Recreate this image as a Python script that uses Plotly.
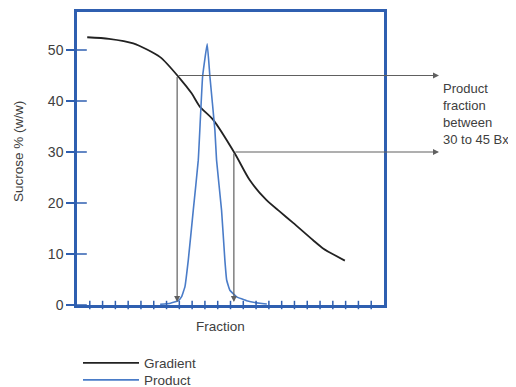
import numpy as np
import plotly.graph_objects as go

# ---- data ----
frac_gradient = [0.8, 2.5, 4.4, 6.5, 8.05, 8.96, 9.6, 10.65, 12.34, 13.5, 14.8, 15.86, 16.9, 18.46, 19.24, 20.94]
gradient = [52.5, 52.2, 51.3, 48.6, 44.4, 41.5, 38.9, 36.3, 29.7, 24.5, 20.6, 18.3, 16.1, 12.7, 11.1, 8.7]

frac_product = [6.5, 7.3, 7.91, 8.18, 8.44, 8.70, 9.09, 9.48, 9.82, 10.18, 10.39, 10.78, 10.91, 11.30, 11.56, 11.70, 11.95, 12.48, 13.26, 14.3, 14.84]
product = [0.15, 0.35, 0.84, 1.63, 3.6, 8.8, 18.6, 28.4, 44.8, 51.2, 44.8, 34.3, 28.4, 18.6, 8.8, 4.9, 2.9, 1.6, 0.84, 0.33, 0.2]

y_ticks = [0, 10, 20, 30, 40, 50]
x_ticks = list(range(1, 24))
band_low, band_high = 30, 45
band_label = "Product<br>fraction<br>between<br>30 to 45 Bx"

# ---- styles ----
FONT = "Liberation Sans, Arial, sans-serif"
TXT = "#404040"
FRAME = "#2f5fb0"
PROD = "#4a7cc8"
ARROW = "#606060"
FS = 13.5

x_range = [0, 24]
y_range = [0, 57.45]

fig = go.Figure()

fig.add_trace(go.Scatter(x=frac_gradient, y=gradient, mode="lines", name="Gradient",
                         legend="legend",
                         line=dict(color="#222222", width=1.8, shape="spline", smoothing=0.7)))
fig.add_trace(go.Scatter(x=frac_product, y=product, mode="lines", name="Product",
                         legend="legend2",
                         line=dict(color=PROD, width=1.6, shape="spline", smoothing=0.3)))

# crossing tick marks
fig.add_trace(go.Scatter(x=x_ticks, y=[0] * len(x_ticks), mode="markers", showlegend=False,
                         hoverinfo="skip", cliponaxis=False,
                         marker=dict(symbol="line-ns", size=6, line=dict(color=FRAME, width=1.5))))
fig.add_trace(go.Scatter(x=[0] * len(y_ticks), y=y_ticks, mode="markers", showlegend=False,
                         hoverinfo="skip", cliponaxis=False,
                         marker=dict(symbol="line-ew", size=14, line=dict(color=FRAME, width=1.5))))

# crossing points of gradient with band limits
rev_x = frac_gradient[::-1]
rev_y = gradient[::-1]
x_high = float(np.interp(band_high, rev_y, rev_x))
x_low = float(np.interp(band_low, rev_y, rev_x))
x_far = 28.3

anns = []
for xc, yc in [(x_high, band_high), (x_low, band_low)]:
    anns.append(dict(x=xc, y=0.6, ax=xc, ay=yc, xref="x", yref="y", axref="x", ayref="y",
                     text="", showarrow=True, arrowhead=2, arrowsize=1, arrowwidth=1.2,
                     arrowcolor=ARROW))
    anns.append(dict(x=x_far, y=yc, ax=xc, ay=yc, xref="x", yref="y", axref="x", ayref="y",
                     text="", showarrow=True, arrowhead=2, arrowsize=1, arrowwidth=1.2,
                     arrowcolor=ARROW))

anns.append(dict(x=1.186, y=37.4, xref="paper", yref="y", text=band_label, showarrow=False,
                 xanchor="left", yanchor="middle", align="left",
                 font=dict(family=FONT, size=13, color=TXT)))
anns.append(dict(x=0.469, y=-0.072, xref="paper", yref="paper", text="Fraction", showarrow=False,
                 xanchor="center", yanchor="middle", font=dict(family=FONT, size=FS, color=TXT)))
anns.append(dict(x=-0.192, y=0.522, xref="paper", yref="paper", text="Sucrose % (w/w)",
                 showarrow=False, textangle=-90, xanchor="center", yanchor="middle",
                 font=dict(family=FONT, size=FS, color=TXT)))

leg_common = dict(xref="container", yref="container", xanchor="left", yanchor="top",
                  itemwidth=56, font=dict(family=FONT, size=FS, color=TXT),
                  bgcolor="rgba(0,0,0,0)")

# page body adds an 8px offset; figure is sized/margined to compensate
fig.update_layout(
    width=508, height=379,
    margin=dict(l=69, r=132, t=4, b=82, autoexpand=False),
    paper_bgcolor="white", plot_bgcolor="white",
    font=dict(family=FONT, size=FS, color=TXT),
    annotations=anns,
    showlegend=True,
    legend=dict(x=0.1378, y=0.104, **leg_common),
    legend2=dict(x=0.1378, y=0.0591, **leg_common),
)
fig.update_xaxes(range=x_range, showgrid=False, zeroline=False, showticklabels=False, ticks="",
                 showline=True, mirror=True, linecolor=FRAME, linewidth=2.5)
fig.update_yaxes(range=y_range, showgrid=False, zeroline=False, tickvals=y_ticks,
                 ticks="outside", ticklen=8, tickcolor=FRAME, tickwidth=1.5,
                 tickfont=dict(family=FONT, size=14, color=TXT),
                 showline=True, mirror=True, linecolor=FRAME, linewidth=2.5)

fig.write_html("out.html")
